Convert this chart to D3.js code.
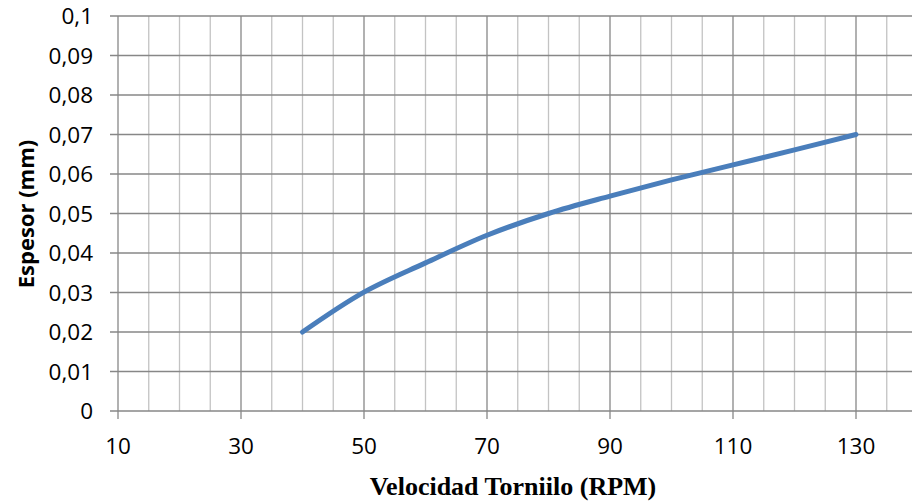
<!DOCTYPE html>
<html><head><meta charset="utf-8">
<script src="https://cdn.jsdelivr.net/npm/d3@7"></script>
<style>body{margin:0;background:#fff}svg{display:block}</style>
</head><body>
<svg id="c" width="912" height="503"></svg>
<script>
const rpm = [40, 50, 60, 70, 80, 90, 100, 110, 120, 130];
const espesor = [0.02, 0.0301, 0.0375, 0.0445, 0.0500, 0.0544, 0.0585, 0.0623, 0.0661, 0.07];
const xTicks = [10, 30, 50, 70, 90, 110, 130];
const yTicks = [0, 0.01, 0.02, 0.03, 0.04, 0.05, 0.06, 0.07, 0.08, 0.09, 0.1];
const xMinor = d3.range(10, 141, 5);
const xTitle = "Velocidad Torniilo (RPM)";
const yTitle = "Espesor (mm)";

const svg = d3.select("#c");
const x = d3.scaleLinear().domain([10, 140]).range([118, 917.5]);
const y = d3.scaleLinear().domain([0, 0.1]).range([411, 16]);
const fmt = d => String(+d.toFixed(2)).replace(".", ",");

// minor vertical grid
svg.append("g").selectAll("line").data(xMinor.filter(v => (v - 10) % 20 !== 0)).join("line")
  .attr("x1", d => x(d)).attr("x2", d => x(d)).attr("y1", y(0.1)).attr("y2", y(0))
  .attr("stroke", "#c3c3c3").attr("stroke-width", 1.3);
// major vertical grid
svg.append("g").selectAll("line").data(xTicks).join("line")
  .attr("x1", d => x(d)).attr("x2", d => x(d)).attr("y1", y(0.1)).attr("y2", y(0) + 8)
  .attr("stroke", "#878787").attr("stroke-width", 1.3);
// horizontal grid
svg.append("g").selectAll("line").data(yTicks).join("line")
  .attr("x1", x(10) - 8).attr("x2", 912).attr("y1", d => y(d)).attr("y2", d => y(d))
  .attr("stroke", "#878787").attr("stroke-width", 1.3);

// y labels
svg.append("g").selectAll("text").data(yTicks).join("text")
  .attr("x", 93).attr("y", d => y(d)).attr("dy", "0.36em")
  .attr("text-anchor", "end").attr("font-family", "Open Sans, sans-serif").attr("font-size", 22.5)
  .attr("fill", "#000").text(fmt);
// x labels
svg.append("g").selectAll("text").data(xTicks).join("text")
  .attr("x", d => x(d)).attr("y", 454)
  .attr("text-anchor", "middle").attr("font-family", "Open Sans, sans-serif").attr("font-size", 22.5)
  .attr("fill", "#000").text(d => d);

// line
const line = d3.line().x((d, i) => x(rpm[i])).y(d => y(d)).curve(d3.curveCatmullRom.alpha(0.5));
svg.append("path").datum(espesor).attr("d", line)
  .attr("fill", "none").attr("stroke", "#4a7ebb").attr("stroke-width", 5)
  .attr("stroke-linecap", "round").attr("stroke-linejoin", "round");

// titles
svg.append("text").attr("x", 513).attr("y", 495).attr("text-anchor", "middle")
  .attr("font-family", "Liberation Serif, serif").attr("font-weight", "bold").attr("font-size", 26)
  .text(xTitle);
svg.append("text").attr("transform", "translate(34,214) rotate(-90)").attr("text-anchor", "middle")
  .attr("font-family", "Open Sans, sans-serif").attr("font-weight", "bold").attr("font-size", 22)
  .text(yTitle);
</script>
</body></html>
